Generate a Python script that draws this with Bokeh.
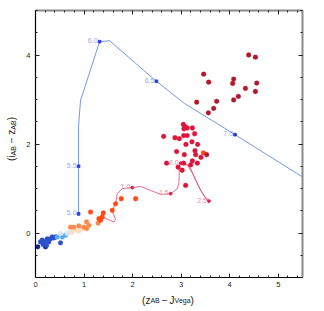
from bokeh.plotting import figure
from bokeh.models import Range1d, LinearAxis, FixedTicker, ColumnDataSource, Div
from bokeh.layouts import row, column
from bokeh.core.properties import value
from bokeh.embed import file_html
from bokeh.resources import INLINE

# ---- data -------------------------------------------------------------
# observed objects: colour z_AB - J_Vega (x), i_AB - z_AB (y), colour class
pts_x = [0.047, 0.206,
         0.103, 0.138, 0.186, 0.159, 0.241, 0.274, 0.227, 0.309, 0.344, 0.377, 0.412, 0.515,
         0.447, 0.551, 0.619,
         0.515, 0.654, 0.707,
         0.757, 0.825, 0.893, 0.963,
         1.052, 0.722, 0.790, 0.893, 0.996, 1.052, 1.099, 1.289,
         1.767, 2.062, 1.649, 1.581, 1.134, 1.396, 1.305, 1.340, 1.375, 3.458,
         3.045, 3.082, 3.058, 3.124, 3.231, 2.639, 2.872, 2.963, 3.052, 3.124, 3.278, 3.340,
         3.223, 3.099, 2.907, 3.066, 3.285, 3.299, 3.408, 3.231, 3.334, 3.196, 2.701, 3.052,
         2.938, 3.021, 3.093,
         4.392, 4.530, 3.464, 3.567, 4.082, 4.062, 4.557, 4.324, 4.530, 4.179, 4.082, 3.732,
         3.320, 3.670, 3.561, 3.526]
pts_y = [-0.31, -0.31,
         -0.20, -0.16, -0.20, -0.26, -0.13, -0.20, -0.28, -0.13, -0.09, -0.11, -0.09, -0.22,
         -0.09, -0.09, -0.05,
         -0.01, -0.01, 0.01,
         0.02, 0.06, 0.04, 0.10,
         0.25, 0.13, 0.13, 0.16, 0.13, 0.10, 0.17, 0.22,
         0.77, 0.77, 0.655, 0.51, 0.47, 0.45, 0.32, 0.285, 0.36, 1.80,
         2.44, 2.39, 2.34, 2.36, 2.36, 2.17, 2.14, 2.12, 2.19, 2.19, 2.23, 1.99,
         2.05, 1.99, 1.83, 1.76, 1.85, 1.76, 1.70, 1.62, 1.57, 1.53, 1.57, 1.57,
         1.48, 1.41, 1.07,
         4.00, 3.95, 3.57, 3.39, 3.46, 3.36, 3.37, 3.25, 3.18, 3.07, 2.99, 2.96,
         2.94, 2.80, 2.70, 1.76]
pts_cls = [0, 0,
           1, 1, 1, 1, 1, 1, 1, 1, 1, 1, 1, 1,
           2, 2, 2,
           3, 3, 3,
           4, 4, 4, 4,
           5, 5, 5, 5, 5, 5, 5, 5,
           6, 6, 6, 6, 6, 6, 6, 6, 6, 6,
           7, 7, 7, 7, 7, 7, 7, 7, 7, 7, 7, 7,
           7, 7, 7, 7, 7, 7, 7, 7, 7, 7, 7, 7,
           7, 7, 7,
           8, 8, 8, 8, 8, 8, 8, 8, 8, 8, 8, 8,
           8, 8, 8, 8]
class_colors = ["#13238a", "#2c50c8", "#5eaaea", "#dce4f4", "#fde0c2",
                "#fb8a4e", "#ff4a14", "#dc143c", "#b2182b"]

# high-redshift track (blue)
hiz_x = [0.887, 0.887, 0.887, 0.928, 1.32, 1.526, 2.49, 3.07, 4.11, 5.5]
hiz_y = [0.43, 1.50, 2.41, 2.98, 4.30, 4.32, 3.41, 2.91, 2.21, 1.26]
hiz_lab_x = [0.887, 0.887, 1.32, 2.49, 4.11]
hiz_lab_y = [0.43, 1.50, 4.30, 3.41, 2.21]
hiz_lab = ["5.0", "5.5", "6.0", "6.5", "7.0"]

# low-redshift track (red)
loz_x = [1.375, 1.614, 1.649, 1.581, 1.649, 1.685, 1.788, 1.994, 2.165, 2.371, 2.577,
         2.784, 2.922, 2.955, 2.963, 2.990, 3.134, 3.231, 3.367, 3.470, 3.573, 3.505,
         3.402, 3.278, 3.175, 3.072]
loz_y = [0.36, 0.247, 0.300, 0.509, 0.659, 0.883, 0.996, 1.018, 1.047, 0.957, 0.868,
         0.883, 0.996, 1.121, 1.480, 1.570, 1.518, 1.345, 1.031, 0.845, 0.717, 0.778,
         0.957, 1.249, 1.496, 1.574]
loz_lab_x = [1.994, 2.784, 2.990, 3.573]
loz_lab_y = [1.018, 0.883, 1.570, 0.717]
loz_lab = ["1.0", "1.5", "2.0", "2.5"]

x_ticks = [0, 1, 2, 3, 4, 5]
y_ticks = [0, 2, 4]

# ---- figure -----------------------------------------------------------
FONT = "Liberation Sans"
YLAB_W = 18
p = figure(frame_width=267, frame_height=267, output_backend="svg", toolbar_location=None,
           x_range=Range1d(0, 5.5), y_range=Range1d(-1, 5),
           min_border_left=35 - YLAB_W, min_border_top=10, min_border_right=6,
           min_border_bottom=15)
p.outline_line_color = None
p.grid.visible = False
p.background_fill_color = "white"

x_minor = [round(0.2 * k, 1) for k in range(0, 28)]
y_minor = [round(-1 + 0.5 * k, 1) for k in range(0, 13)]

def style_axis(ax, color, width):
    ax.major_tick_in = 4
    ax.major_tick_out = 0
    ax.minor_tick_in = 2
    ax.minor_tick_out = 0
    ax.axis_line_color = color
    ax.axis_line_width = width
    ax.major_tick_line_color = "#222222"
    ax.minor_tick_line_color = "#222222"
    ax.major_label_text_font = FONT
    ax.major_label_text_font_size = "7.5px"
    ax.major_label_text_color = "#222222"

p.xaxis.ticker = FixedTicker(ticks=x_ticks, minor_ticks=x_minor)
p.yaxis.ticker = FixedTicker(ticks=y_ticks, minor_ticks=y_minor)
style_axis(p.xaxis[0], "black", 1.2)
style_axis(p.yaxis[0], "black", 1.2)
p.xaxis.major_label_standoff = 4
p.yaxis.major_label_standoff = 5
p.yaxis.major_label_orientation = "horizontal"

top = LinearAxis(ticker=FixedTicker(ticks=x_ticks, minor_ticks=x_minor),
                 major_label_overrides={t: "" for t in x_ticks}, major_label_standoff=0)
right = LinearAxis(ticker=FixedTicker(ticks=y_ticks, minor_ticks=y_minor),
                   major_label_overrides={t: "" for t in y_ticks}, major_label_standoff=0)
style_axis(top, "#8a8a8a", 2)
style_axis(right, "#8a8a8a", 2)
p.add_layout(top, "above")
p.add_layout(right, "right")

p.line(hiz_x, hiz_y, line_color="#4f7ce6", line_width=0.8)
p.scatter(hiz_lab_x, hiz_lab_y, marker="square", size=2.6, color="#2a3ee0")
p.text(hiz_lab_x, hiz_lab_y, text=hiz_lab, text_font=value(FONT), text_font_size="7px",
       text_color="#a3a6f2", text_align="right", text_baseline="middle", x_offset=-2, y_offset=-1)

p.line(loz_x, loz_y, line_color="#e8587e", line_width=0.9)
p.scatter(loz_lab_x, loz_lab_y, marker="circle", size=2.8, color="#e0204a")
p.text(loz_lab_x, loz_lab_y, text=loz_lab, text_font=value(FONT), text_font_size="7px",
       text_color="#f08aa6", text_align="right", text_baseline="middle", x_offset=-2, y_offset=-1)

src = ColumnDataSource(dict(x=pts_x, y=pts_y, c=[class_colors[k] for k in pts_cls]))
p.scatter("x", "y", source=src, size=4.8, fill_color="c", line_color="c", line_width=0.3)

# ---- axis labels (HTML, with real subscripts) ----
SUB = "<sub style='font-size:7px;vertical-align:-2px'>{}</sub>"
fig_w = (35 - YLAB_W) + 267 + 6
fig_h = 10 + 267 + 15
x_html = ("<div style=\"width:%dpx;height:16px;display:flex;align-items:center;"
          "justify-content:center;padding-left:10px;box-sizing:border-box;"
          "font-family:'Liberation Sans';font-size:10px;color:#222;white-space:nowrap\">"
          "(z%s&thinsp;&minus;&thinsp;J%s)</div>") % (fig_w, SUB.format("AB"), SUB.format("Vega"))
y_html = ("<div style=\"width:%dpx;height:278px;display:flex;align-items:center;"
          "justify-content:center;padding-left:6px;box-sizing:border-box;"
          "font-family:'Liberation Sans';font-size:10px;color:#222;"
          "white-space:nowrap\"><span style=\"writing-mode:vertical-rl;"
          "transform:rotate(180deg)\">(i%s &minus; z%s)</span></div>") % (
              YLAB_W, SUB.format("AB"), SUB.format("AB"))

xdiv = Div(text=x_html, width=fig_w, height=16, margin=0)
ydiv = Div(text=y_html, width=YLAB_W, height=fig_h, margin=0)

layout = row(ydiv, column(p, xdiv, spacing=0), spacing=0)

open("out.html", "w").write(file_html(layout, INLINE))
